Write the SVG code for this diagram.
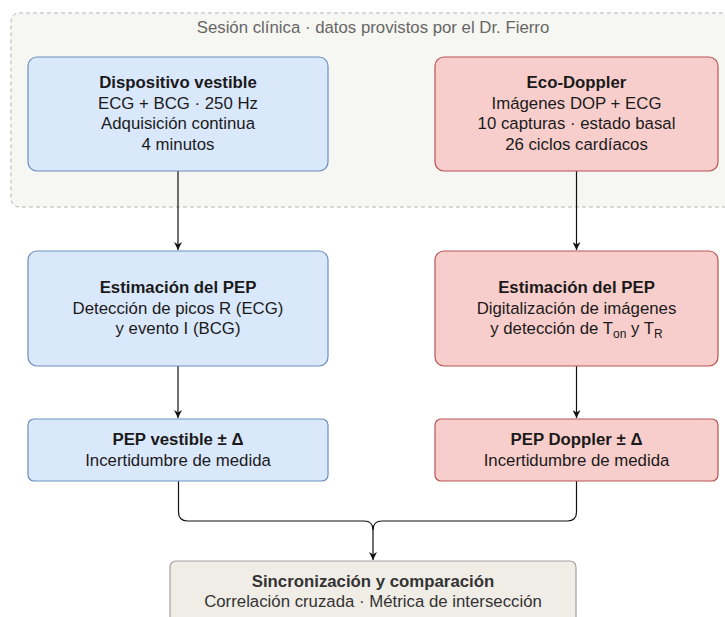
<svg xmlns="http://www.w3.org/2000/svg" width="725" height="617" viewBox="0 0 725 617">
<defs>
<style>
text{font-family:"Liberation Sans",Arial,sans-serif;font-size:16.8px;fill:#1a1a1a;text-anchor:middle}
.b{font-weight:bold}
.blue{fill:#dae8fc;stroke:#6c8ebf;stroke-width:1.2}
.red{fill:#f8cecc;stroke:#b85450;stroke-width:1.2}
.grey{fill:#f0ede7;stroke:#a3a3a3;stroke-width:1.2}
.edge{fill:none;stroke:#111;stroke-width:1.2}
.sub{font-size:12px}
</style>
<marker id="arr" viewBox="0 0 10 10" refX="10" refY="5" markerWidth="8" markerHeight="8" markerUnits="userSpaceOnUse" orient="auto">
<path d="M0,0 L10,5 L0,10 L3,5 Z" fill="#111"/>
</marker>
</defs>
<rect width="725" height="617" fill="#ffffff"/>
<g id="session">
<rect x="11" y="13" width="730" height="194" rx="8" fill="#f6f6f2" stroke="#b5b5b5" stroke-dasharray="4 3"/>
<text x="373" y="33" style="fill:#666">Sesión clínica · datos provistos por el Dr. Fierro</text>
</g>
<g id="connectors">
<path class="edge" d="M178,171 V250" marker-end="url(#arr)"/>
<path class="edge" d="M576.5,171 V250" marker-end="url(#arr)"/>
<path class="edge" d="M178,366 V418" marker-end="url(#arr)"/>
<path class="edge" d="M576.5,366 V418" marker-end="url(#arr)"/>
<path class="edge" d="M178.5,481 V512 Q178.5,521 187.5,521 H364 Q373,521 373,530 V560" marker-end="url(#arr)"/>
<path class="edge" d="M576.5,481 V512 Q576.5,521 567.5,521 H382 Q373,521 373,530"/>
</g>
<g id="wearable">
<rect class="blue" x="28" y="57" width="300" height="114" rx="9"/>
<text class="b" x="178" y="88">Dispositivo vestible</text>
<text x="178" y="108.5">ECG + BCG · 250 Hz</text>
<text x="178" y="129">Adquisición continua</text>
<text x="178" y="149.5">4 minutos</text>
</g>
<g id="doppler">
<rect class="red" x="435" y="57" width="283" height="114" rx="9"/>
<text class="b" x="576.5" y="88">Eco-Doppler</text>
<text x="576.5" y="108.5">Imágenes DOP + ECG</text>
<text x="576.5" y="129">10 capturas · estado basal</text>
<text x="576.5" y="149.5">26 ciclos cardíacos</text>
</g>
<g id="pep-est-wearable">
<rect class="blue" x="28" y="251" width="300" height="115" rx="9"/>
<text class="b" x="178" y="293">Estimación del PEP</text>
<text x="178" y="313.5">Detección de picos R (ECG)</text>
<text x="178" y="334">y evento I (BCG)</text>
</g>
<g id="pep-est-doppler">
<rect class="red" x="435" y="251" width="283" height="115" rx="9"/>
<text class="b" x="576.5" y="293">Estimación del PEP</text>
<text x="576.5" y="313.5">Digitalización de imágenes</text>
<text x="576.5" y="334">y detección de T<tspan class="sub" dy="4">on</tspan><tspan dy="-4"> y T</tspan><tspan class="sub" dy="4">R</tspan></text>
</g>
<g id="pep-wearable">
<rect class="blue" x="28" y="419" width="300" height="62" rx="6"/>
<text class="b" x="178" y="445">PEP vestible ± Δ</text>
<text x="178" y="465.5">Incertidumbre de medida</text>
</g>
<g id="pep-doppler">
<rect class="red" x="435" y="419" width="283" height="62" rx="6"/>
<text class="b" x="576.5" y="445">PEP Doppler ± Δ</text>
<text x="576.5" y="465.5">Incertidumbre de medida</text>
</g>
<g id="comparison">
<rect class="grey" x="170" y="561" width="406" height="80" rx="6"/>
<text class="b" x="373" y="587" style="fill:#333">Sincronización y comparación</text>
<text x="373" y="607" style="fill:#333">Correlación cruzada · Métrica de intersección</text>
</g>
</svg>
